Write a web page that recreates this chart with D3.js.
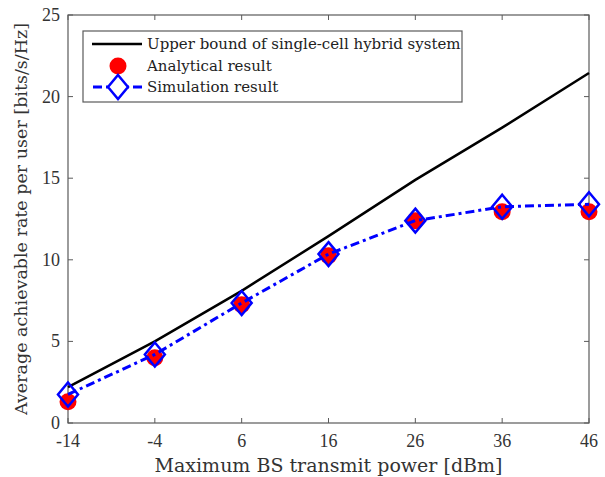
<html>
<head>
<script src="https://d3js.org/d3.v7.min.js"></script>
<style>
body { margin: 0; background: #fff; }
text { font-family: 'Liberation Serif', serif; }
text.lbl { font-family: 'DejaVu Serif', serif; }
</style>
</head>
<body>
<svg id="chart" width="605" height="477"></svg>
<script>
// data
var power = [-14, -4, 6, 16, 26, 36, 46];
var upperBound = [2.2, 5.0, 8.1, 11.45, 14.9, 18.1, 21.45];
var analytical = [1.3, 4.0, 7.25, 10.25, 12.4, 12.95, 12.95];
var simulation = [1.75, 4.2, 7.35, 10.35, 12.4, 13.25, 13.4];
var yTicks = [0, 5, 10, 15, 20, 25];
var legendLabels = ["Upper bound of single-cell hybrid system", "Analytical result", "Simulation result"];

var svg = d3.select("#chart");
var mLeft = 68, mRight = 589, mTop = 15, mBottom = 423;
var axisColor = "#5a5a5a";

var x = d3.scaleLinear().domain([-14, 46]).range([mLeft, mRight]);
var y = d3.scaleLinear().domain([0, 25]).range([mBottom, mTop]);

// axes box
svg.append("rect")
  .attr("x", mLeft).attr("y", mTop)
  .attr("width", mRight - mLeft).attr("height", mBottom - mTop)
  .attr("fill", "none").attr("stroke", axisColor).attr("stroke-width", 1.2);

// ticks (inside, on all four sides)
var tl = 5;
power.forEach(function (p) {
  svg.append("line").attr("x1", x(p)).attr("x2", x(p)).attr("y1", mBottom).attr("y2", mBottom - tl)
    .attr("stroke", axisColor);
  svg.append("line").attr("x1", x(p)).attr("x2", x(p)).attr("y1", mTop).attr("y2", mTop + tl)
    .attr("stroke", axisColor);
  svg.append("text").attr("x", x(p)).attr("y", mBottom + 24)
    .attr("text-anchor", "middle").attr("font-size", 18).attr("fill", "#333")
    .text(p);
});
yTicks.forEach(function (v) {
  svg.append("line").attr("x1", mLeft).attr("x2", mLeft + tl).attr("y1", y(v)).attr("y2", y(v))
    .attr("stroke", axisColor);
  svg.append("line").attr("x1", mRight).attr("x2", mRight - tl).attr("y1", y(v)).attr("y2", y(v))
    .attr("stroke", axisColor);
  svg.append("text").attr("x", mLeft - 8).attr("y", y(v) + 6)
    .attr("text-anchor", "end").attr("font-size", 18).attr("fill", "#333")
    .text(v);
});

// axis labels
svg.append("text").attr("class", "lbl").attr("x", (mLeft + mRight) / 2).attr("y", 472)
  .attr("text-anchor", "middle").attr("font-size", 19).attr("fill", "#333")
  .text("Maximum BS transmit power [dBm]");
svg.append("text").attr("class", "lbl")
  .attr("transform", "translate(27,219) rotate(-90)")
  .attr("text-anchor", "middle").attr("font-size", 17.5).attr("fill", "#333")
  .text("Average achievable rate per user [bits/s/Hz]");

var line = d3.line().x(function (d, i) { return x(power[i]); }).y(function (d) { return y(d); });

// upper bound
svg.append("path").datum(upperBound).attr("d", line)
  .attr("fill", "none").attr("stroke", "#000").attr("stroke-width", 2.5);

// analytical result (red circles)
svg.selectAll("circle.ana").data(analytical).enter().append("circle")
  .attr("class", "ana")
  .attr("cx", function (d, i) { return x(power[i]); })
  .attr("cy", function (d) { return y(d); })
  .attr("r", 8.5).attr("fill", "#ff0000");

// simulation result (blue dash-dot with diamonds)
svg.append("path").datum(simulation).attr("d", line)
  .attr("fill", "none").attr("stroke", "#0000ff").attr("stroke-width", 3)
  .attr("stroke-dasharray", "9,4,3,4");

function diamond(cx, cy) {
  var w = 10, h = 12;
  return "M" + cx + "," + (cy - h) + "L" + (cx + w) + "," + cy + "L" + cx + "," + (cy + h) + "L" + (cx - w) + "," + cy + "Z";
}
svg.selectAll("path.sim").data(simulation).enter().append("path")
  .attr("class", "sim")
  .attr("d", function (d, i) { return diamond(x(power[i]), y(d)); })
  .attr("fill", "none").attr("stroke", "#0000ff").attr("stroke-width", 2.5);

// legend
var lg = svg.append("g");
lg.append("rect").attr("x", 83).attr("y", 31).attr("width", 379).attr("height", 71)
  .attr("fill", "#fff").attr("stroke", axisColor).attr("stroke-width", 1.2);
var rowY = [44, 66, 87];
lg.append("line").attr("x1", 92).attr("x2", 142).attr("y1", rowY[0]).attr("y2", rowY[0])
  .attr("stroke", "#000").attr("stroke-width", 2.5);
lg.append("circle").attr("cx", 118).attr("cy", rowY[1]).attr("r", 8.5).attr("fill", "#ff0000");
lg.append("line").attr("x1", 93).attr("x2", 142).attr("y1", rowY[2]).attr("y2", rowY[2])
  .attr("stroke", "#0000ff").attr("stroke-width", 3).attr("stroke-dasharray", "9,4,3,4");
lg.append("path").attr("d", diamond(118, rowY[2]))
  .attr("fill", "#fff").attr("stroke", "#0000ff").attr("stroke-width", 2.5);
legendLabels.forEach(function (t, i) {
  lg.append("text").attr("class", "lbl").attr("x", 147).attr("y", rowY[i] + 5)
    .attr("font-size", 15).attr("fill", "#222").text(t);
});
</script>
</body>
</html>
